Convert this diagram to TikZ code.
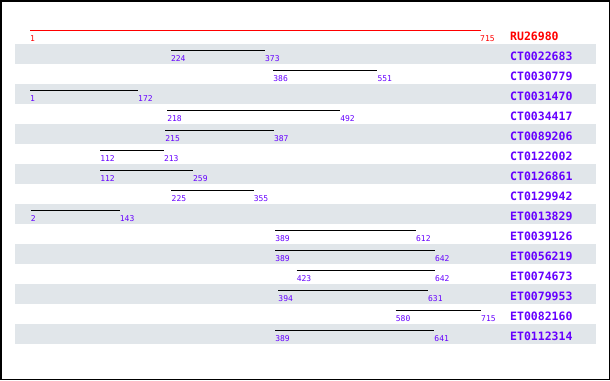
\documentclass[tikz,border=0pt]{standalone}
\usepackage{fontspec}
\setmonofont{DejaVu Sans Mono}
\usetikzlibrary{positioning}
\definecolor{bandgray}{RGB}{225,230,234}
\definecolor{idpurple}{RGB}{102,0,255}
\definecolor{refred}{RGB}{255,0,0}
\tikzset{
  poslabel/.style={font=\ttfamily\fontsize{8}{8}\selectfont,anchor=west,inner sep=0pt,text=idpurple},
  idlabel/.style={font=\ttfamily\bfseries\fontsize{11.5}{11.5}\selectfont,anchor=west,inner sep=0pt,text=idpurple},
  hitline/.style={line width=1.1pt}
}

\begin{document}
\begin{tikzpicture}[x=1pt,y=-1pt]
\useasboundingbox (0,0) rectangle (610,380);
%frame
\draw[line width=1.5pt] (0.75,0.75) rectangle (609.25,379.25);
%stripes
\foreach \i in {1,3,...,15}{
\fill[bandgray] (15,24+20*\i) rectangle (596,44+20*\i);
}
%reference
\coordinate (s0) at (30,30.5);
\coordinate (e0) at (481,30.5);
\draw[hitline,refred] (s0)--(e0);
\node[poslabel,text=refred] (sn0) at (30,39) {1};
\node[poslabel,text=refred] (en0) at (480,39) {715};
\node[idlabel,text=refred] (id0) at (510,36.5) {RU26980};
%hits
\foreach \name/\a/\b [count=\i] in {CT0022683/224/373,CT0030779/386/551,
CT0031470/1/172,CT0034417/218/492,CT0089206/215/387,CT0122002/112/213,
CT0126861/112/259,CT0129942/225/355,ET0013829/2/143,ET0039126/389/612,
ET0056219/389/642,ET0074673/423/642,ET0079953/394/631,ET0082160/580/715,
ET0112314/389/641}{
\pgfmathsetmacro\y{30+20*\i}
\pgfmathsetmacro\xa{30+(\a-1)*0.631653}
\pgfmathsetmacro\xb{30+(\b-1)*0.631653}
\coordinate (s\i) at (\xa,\y+0.5);
\coordinate (e\i) at (\xb,\y+0.5);
\draw[hitline] (s\i)--(e\i);
\node[poslabel] (sn\i) at (\xa,\y+9) {\a};
\node[poslabel] (en\i) at (\xb,\y+9) {\b};
\node[idlabel] (id\i) at (510,\y+6.5) {\name};
}
\end{tikzpicture}
\end{document}
